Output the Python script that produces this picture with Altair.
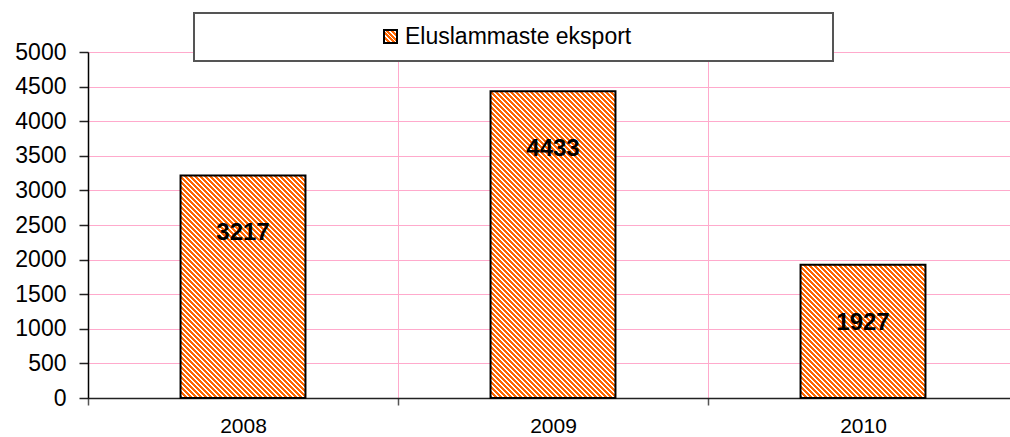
import altair as alt
import pandas as pd

# Data
years = ["2008", "2009", "2010"]
values = [3217, 4433, 1927]
series_name = "Eluslammaste eksport"
y_ticks = [0, 500, 1000, 1500, 2000, 2500, 3000, 3500, 4000, 4500, 5000]

# Layout / style
PLOT_W = 922
PLOT_H = 346
X_RANGE = 930          # category bands run slightly past the right edge
BAR_FRAC = 0.403       # bar width as a share of the category band
Y_MAX = 5000
ORANGE = "#FF6600"
LIGHT = "#FFFFFF"
PINK = "#FFAACC"
BG = "#FFFFCC"
FONT = "Liberation Sans"


def hatch(w, h, period=5.0, frac=0.6):
    """Linear gradient giving 45-degree '\\' stripes in a w x h pixel box."""
    span = w + h
    stops = []
    k = 0
    while k * period < span:
        a = k * period / span
        b = min((k * period + frac * period) / span, 1.0)
        c = min((k + 1) * period / span, 1.0)
        stops += [
            {"offset": a, "color": ORANGE},
            {"offset": b, "color": ORANGE},
            {"offset": b, "color": LIGHT},
            {"offset": c, "color": LIGHT},
        ]
        k += 1
    s = (w + h) / (w * w + h * h)
    return {
        "gradient": "linear",
        "x1": 0, "y1": 1,
        "x2": s * w, "y2": 1 - s * h,
        "stops": stops,
    }


df = pd.DataFrame({"year": years, "value": values})

x_enc = alt.X(
    "year:N", title=None, sort=years,
    scale=alt.Scale(range=[0, X_RANGE], paddingInner=0, paddingOuter=0),
    axis=alt.Axis(
        tickBand="extent", grid=True, gridColor=PINK, gridWidth=1,
        labelAngle=0, labelFontSize=21, labelFont=FONT, labelColor="black",
        labelPadding=10, domainColor="#222222", domainWidth=1.5,
        tickColor="#555555", tickSize=7, tickWidth=1.5,
    ),
)
y_enc = alt.Y(
    "value:Q", title=None,
    scale=alt.Scale(domain=[0, Y_MAX], nice=False),
    axis=alt.Axis(
        values=y_ticks, format="d", grid=True, gridColor=PINK, gridWidth=1,
        labelFontSize=23, labelFont=FONT, labelColor="black", labelPadding=13,
        domainColor="black", domainWidth=1.5,
        tickColor="#222222", tickSize=9, tickWidth=1.5,
    ),
)

base = alt.Chart(df)
bar_w = X_RANGE / 3 * BAR_FRAC

bars = []
for yr, v in zip(years, values):
    bh = v / Y_MAX * PLOT_H
    bars.append(
        base.transform_filter(alt.datum.year == yr)
        .mark_bar(
            fill=hatch(bar_w, bh), stroke="black", strokeWidth=2,
            width=alt.RelativeBandSize(BAR_FRAC),
        )
        .encode(x=x_enc, y=y_enc)
    )

labels = base.mark_text(
    font=FONT, fontSize=24, fontWeight="bold", color="black",
    baseline="middle", dy=58,
).encode(x=x_enc, y=y_enc, text="value:Q")

# Legend box drawn above the plot
leg_data = alt.Data(values=[{"label": series_name}])
leg_box = alt.Chart(leg_data).mark_rect(
    fill="white", stroke="#555555", strokeWidth=2
).encode(x=alt.value(106), x2=alt.value(745), y=alt.value(-39), y2=alt.value(9))
leg_sym = alt.Chart(leg_data).mark_rect(
    fill=hatch(14, 14), stroke="black", strokeWidth=2
).encode(x=alt.value(296), x2=alt.value(309), y=alt.value(-22), y2=alt.value(-9))
leg_txt = alt.Chart(leg_data).mark_text(
    font=FONT, fontSize=23, color="black", align="left", baseline="middle"
).encode(x=alt.value(317), y=alt.value(-15), text="label:N")

chart = alt.layer(*bars, labels, leg_box, leg_sym, leg_txt).properties(
    width=PLOT_W,
    height=PLOT_H,
    autosize=alt.AutoSizeParams(type="none"),
    padding={"left": 88, "top": 52, "right": 0, "bottom": 39},
).configure_view(fill=BG, strokeWidth=0).configure(background="white")

chart.save("out.html", embed_options={"renderer": "svg", "actions": False})
